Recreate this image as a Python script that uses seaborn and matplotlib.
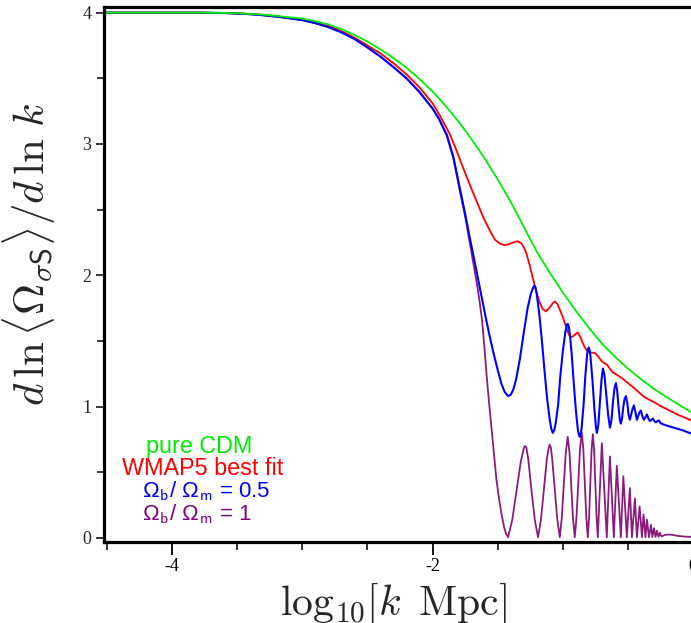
import numpy as np
import pandas as pd
import matplotlib
matplotlib.use("Agg")
import matplotlib.pyplot as plt
import seaborn as sns
from matplotlib.ticker import MultipleLocator, FixedLocator

# ---------------- data ----------------
cdm_x = [-4.523, -3.8, -3.6, -3.5, -3.4, -3.3, -3.2, -3.1, -3.0, -2.9, -2.8, -2.7,
         -2.6, -2.5, -2.4, -2.3, -2.2, -2.1, -2.0, -1.9, -1.8, -1.7, -1.6, -1.5,
         -1.4, -1.3, -1.2, -1.1, -1.0, -0.9, -0.8, -0.7, -0.6, -0.5, -0.4, -0.3,
         -0.2, -0.1, 0.0]
cdm_y = [4.00, 4.00, 3.998, 3.995, 3.99, 3.985, 3.975, 3.965, 3.955, 3.935, 3.91, 3.875,
         3.83, 3.78, 3.72, 3.655, 3.58, 3.495, 3.40, 3.29, 3.17, 3.035, 2.89, 2.73,
         2.56, 2.37, 2.18, 2.02, 1.87, 1.73, 1.60, 1.48, 1.38, 1.29, 1.21, 1.135,
         1.07, 1.01, 0.95]

wmap_x = [-4.523, -3.8, -3.6, -3.5, -3.4, -3.3, -3.2, -3.1, -3.0, -2.9, -2.8, -2.7,
          -2.6, -2.5, -2.4, -2.3, -2.2, -2.1, -2.0, -1.94, -1.87, -1.82, -1.77, -1.71,
          -1.66, -1.61, -1.56, -1.52, -1.48, -1.45, -1.42, -1.38, -1.35, -1.32, -1.30,
          -1.28, -1.255, -1.23, -1.205, -1.18, -1.155, -1.13, -1.10, -1.075, -1.06,
          -1.04, -1.015, -0.985, -0.96, -0.946, -0.93, -0.91, -0.885, -0.865, -0.845,
          -0.825, -0.80, -0.78, -0.755, -0.73, -0.70, -0.68, -0.66, -0.64, -0.615,
          -0.58, -0.55, -0.50, -0.45, -0.40, -0.37, -0.30, -0.25, -0.18, -0.12, -0.06,
          0.0]
wmap_y = [4.00, 4.00, 3.997, 3.994, 3.99, 3.983, 3.973, 3.96, 3.948, 3.925, 3.90, 3.86,
          3.81, 3.75, 3.69, 3.615, 3.53, 3.43, 3.31, 3.21, 3.08, 2.96, 2.83, 2.68,
          2.56, 2.44, 2.34, 2.27, 2.24, 2.23, 2.235, 2.25, 2.26, 2.245, 2.215,
          2.17, 2.08, 1.98, 1.88, 1.80, 1.745, 1.725, 1.755, 1.79, 1.80,
          1.78, 1.72, 1.64, 1.565, 1.535, 1.53, 1.545, 1.565, 1.53, 1.48,
          1.44, 1.415, 1.41, 1.41, 1.385, 1.345, 1.33, 1.32, 1.29, 1.26,
          1.24, 1.22, 1.18, 1.14, 1.095, 1.07, 1.035, 1.005, 0.97, 0.94, 0.915,
          0.89]

half_x = [-4.523, -3.8, -3.6, -3.5, -3.4, -3.3, -3.2, -3.1, -3.0, -2.9, -2.8, -2.7,
          -2.6, -2.5, -2.4, -2.3, -2.2, -2.1, -2.0, -1.95, -1.89, -1.84, -1.79, -1.75,
          -1.715, -1.68, -1.65, -1.62, -1.59, -1.56, -1.53, -1.50, -1.47, -1.445,
          -1.42, -1.40, -1.38, -1.36, -1.33, -1.30, -1.27, -1.245, -1.23, -1.22,
          -1.21, -1.20, -1.18, -1.16, -1.14, -1.12, -1.10, -1.088, -1.077, -1.066,
          -1.055, -1.035, -1.02, -1.00, -0.98, -0.97, -0.962, -0.954, -0.945, -0.93,
          -0.915, -0.90, -0.885, -0.876, -0.869, -0.862, -0.855, -0.84, -0.827,
          -0.813, -0.806, -0.80, -0.794, -0.787, -0.772, -0.757, -0.745, -0.738,
          -0.727, -0.715, -0.703, -0.692, -0.68, -0.667, -0.652, -0.638, -0.627,
          -0.615, -0.603, -0.592, -0.582, -0.572, -0.562, -0.554, -0.545, -0.535,
          -0.525, -0.515, -0.505, -0.495, -0.485, -0.477, -0.465, -0.454, -0.443,
          -0.431, -0.420, -0.410, -0.40, -0.39, -0.377, -0.365, -0.354, -0.343,
          -0.331, -0.32, -0.308, -0.297, -0.285, -0.274, -0.262, -0.25, -0.23,
          -0.15, -0.08, 0.0]
half_y = [4.00, 4.00, 3.997, 3.993, 3.988, 3.98, 3.97, 3.957, 3.943, 3.92, 3.89, 3.85,
          3.80, 3.735, 3.665, 3.585, 3.50, 3.395, 3.27, 3.19, 3.07, 2.90, 2.66, 2.47,
          2.29, 2.12, 1.97, 1.82, 1.67, 1.53, 1.40, 1.28, 1.17, 1.11,
          1.08, 1.09, 1.13, 1.20, 1.36, 1.56, 1.75, 1.86, 1.90, 1.92,
          1.91, 1.86, 1.70, 1.50, 1.27, 1.06, 0.90, 0.83, 0.80, 0.82,
          0.87, 1.02, 1.22, 1.42, 1.57, 1.62, 1.63, 1.61, 1.55, 1.38,
          1.17, 0.98, 0.83, 0.785, 0.77, 0.79, 0.84, 1.02, 1.23,
          1.40, 1.44, 1.45, 1.43, 1.38, 1.20, 0.98, 0.84, 0.80,
          0.86, 1.03, 1.20, 1.29, 1.24, 1.10, 0.94, 0.84, 0.89,
          1.03, 1.14, 1.18, 1.12, 1.00, 0.90, 0.87, 0.91, 1.00,
          1.06, 1.08, 1.03, 0.94, 0.90, 0.93, 0.98, 1.01, 0.96,
          0.90, 0.93, 0.96, 0.97, 0.93, 0.90, 0.92, 0.94, 0.91,
          0.89, 0.90, 0.91, 0.89, 0.88, 0.89, 0.895, 0.875, 0.865,
          0.84, 0.82, 0.79]

full_x = [-4.523, -3.8, -3.6, -3.5, -3.4, -3.3, -3.2, -3.1, -3.0, -2.9, -2.8, -2.7,
          -2.6, -2.5, -2.4, -2.3, -2.2, -2.1, -2.0, -1.95, -1.89, -1.84, -1.79, -1.75,
          -1.715, -1.69, -1.66, -1.64, -1.62, -1.60, -1.585, -1.565, -1.545, -1.525,
          -1.51, -1.49, -1.47, -1.45, -1.435, -1.42,
          -1.3875, -1.355, -1.3225, -1.30, -1.29, -1.28, -1.265, -1.24, -1.215, -1.19,
          -1.1675, -1.145, -1.1225, -1.108, -1.10, -1.092, -1.081, -1.0615, -1.042,
          -1.023,
          -1.008, -0.9925, -0.977, -0.962, -0.9485, -0.935, -0.9215, -0.908,
          -0.8945, -0.881, -0.8675, -0.854, -0.8425, -0.831, -0.8195, -0.808,
          -0.798, -0.7885, -0.779, -0.769, -0.7595, -0.75, -0.7405, -0.731,
          -0.7155, -0.70, -0.681, -0.662,
          -0.650, -0.638, -0.623, -0.608,
          -0.5965, -0.585, -0.5695, -0.554,
          -0.5445, -0.535, -0.5215, -0.508,
          -0.4965, -0.485, -0.477, -0.469,
          -0.4575, -0.446, -0.4385, -0.431,
          -0.4205, -0.41, -0.401, -0.392,
          -0.386, -0.38, -0.3725, -0.365,
          -0.3595, -0.354, -0.346, -0.338,
          -0.3305, -0.323, -0.3175, -0.312,
          -0.306, -0.30, -0.294, -0.288,
          -0.2825, -0.277, -0.271, -0.265,
          -0.2595, -0.254, -0.247, -0.24,
          -0.22, -0.19, -0.16, -0.12, -0.06, 0.0]
full_y = [4.00, 4.00, 3.997, 3.993, 3.988, 3.98, 3.97, 3.957, 3.943, 3.92, 3.89, 3.85,
          3.80, 3.735, 3.665, 3.585, 3.50, 3.395, 3.27, 3.19, 3.06, 2.89, 2.64, 2.45,
          2.25, 2.11, 1.94, 1.81, 1.66, 1.43, 1.24, 1.02, 0.81, 0.60,
          0.45, 0.30, 0.18, 0.08, 0.03, 0.005,
          0.14, 0.36, 0.58, 0.68, 0.70, 0.69, 0.60, 0.36, 0.14, 0.005,
          0.14, 0.37, 0.60, 0.69, 0.71, 0.69, 0.60, 0.37, 0.14,
          0.005,
          0.15, 0.40, 0.65, 0.77, 0.65, 0.40, 0.15, 0.005,
          0.16, 0.42, 0.68, 0.80, 0.68, 0.42, 0.16, 0.005,
          0.16, 0.41, 0.67, 0.79, 0.67, 0.41, 0.16, 0.005,
          0.36, 0.72, 0.36, 0.005,
          0.31, 0.62, 0.31, 0.005,
          0.275, 0.55, 0.275, 0.005,
          0.235, 0.47, 0.235, 0.005,
          0.19, 0.38, 0.19, 0.005,
          0.15, 0.30, 0.15, 0.005,
          0.12, 0.24, 0.12, 0.005,
          0.09, 0.18, 0.09, 0.005,
          0.07, 0.14, 0.07, 0.005,
          0.05, 0.10, 0.05, 0.006,
          0.04, 0.075, 0.04, 0.008,
          0.03, 0.055, 0.03, 0.01,
          0.025, 0.04, 0.02, 0.012,
          0.022, 0.026, 0.024, 0.016, 0.01, 0.008]

legend_texts = ["pure CDM", "WMAP5 best fit",
                r"Ω$_{\mathsf{b}}$/ Ω$_{\mathsf{m}}$ = 0.5",
                r"Ω$_{\mathsf{b}}$/ Ω$_{\mathsf{m}}$ = 1"]
colors = {"pure CDM": "#00ee00", "WMAP5 best fit": "#ff0000",
          "half": "#0000ff", "full": "#8b1c7c"}
text_colors = ["#00ee00", "#ff0000", "#0000ff", "#800080"]

x_major = [-4, -2, 0]
y_major = [0, 1, 2, 3, 4]

# ---------------- style ----------------
sns.set_style("ticks")
plt.rcParams["font.family"] = ["Liberation Serif", "DejaVu Serif"]
plt.rcParams["mathtext.fontset"] = "cm"
plt.rcParams["axes.unicode_minus"] = False

W, H = 691, 623
fig = plt.figure(figsize=(W / 100, H / 100), dpi=100)
ax_l, ax_r, ax_t, ax_b = 104, 693, 7, 541.5
ax = fig.add_axes([ax_l / W, (H - ax_b) / H, (ax_r - ax_l) / W, (ax_b - ax_t) / H])

data = {
    "full": (full_x, full_y, 1.3),
    "WMAP5 best fit": (wmap_x, wmap_y, 1.3),
    "half": (half_x, half_y, 1.5),
    "pure CDM": (cdm_x, cdm_y, 1.3),
}
for name, (xs, ys, lw) in data.items():
    df = pd.DataFrame({"x": xs, "y": ys})
    sns.lineplot(data=df, x="x", y="y", ax=ax, color=colors[name], lw=lw,
                 sort=False, estimator=None)

ax.set_xlim(-4.523, 0.0)
ax.set_ylim(-0.027, 4.043)
ax.xaxis.set_major_locator(FixedLocator(x_major))
ax.xaxis.set_minor_locator(MultipleLocator(0.5))
ax.yaxis.set_major_locator(FixedLocator(y_major))
ax.yaxis.set_minor_locator(MultipleLocator(0.5))
ax.tick_params(axis="x", which="major", direction="out", length=9, width=1.3,
               labelsize=13, pad=3, colors="black")
ax.tick_params(axis="x", which="minor", direction="out", length=6, width=1.3)
ax.tick_params(axis="y", which="major", direction="out", length=6, width=1.3,
               labelsize=13, pad=3)
ax.tick_params(axis="y", which="minor", direction="out", length=5, width=1.3)
for sp in ax.spines.values():
    sp.set_linewidth(2.3)
    sp.set_color("black")

ax.set_xlabel(r"$\mathrm{log}_{10}[k\ \,\mathrm{Mpc}]$", fontsize=30)
ax.xaxis.set_label_coords((393 - ax_l) / (ax_r - ax_l), -(582 - ax_b) / (ax_b - ax_t))
ax.set_ylabel(r"$d\,\ln\langle\Omega_{\sigma\mathsf{S}}\rangle/d\,\ln\,k$",
              fontsize=31)
ax.yaxis.set_label_coords(-(104 - 58) / (ax_r - ax_l), (ax_b - 254) / (ax_b - ax_t))

# coloured text legend
text_x_px = [199, 203, 142, 142]
text_ha = ["center", "center", "left", "left"]
text_y_px = [453, 475, 497, 520]
text_size = [16.8, 16.8, 16, 16]
for txt, col, xpx, ha, ypx, fs in zip(legend_texts, text_colors, text_x_px, text_ha,
                                      text_y_px, text_size):
    ax.text((xpx - ax_l) / (ax_r - ax_l), (ax_b - ypx) / (ax_b - ax_t), txt,
            transform=ax.transAxes, ha=ha, va="baseline", color=col,
            fontsize=fs, family=["Liberation Sans", "DejaVu Sans"])

fig.savefig("out.png", dpi=100)
